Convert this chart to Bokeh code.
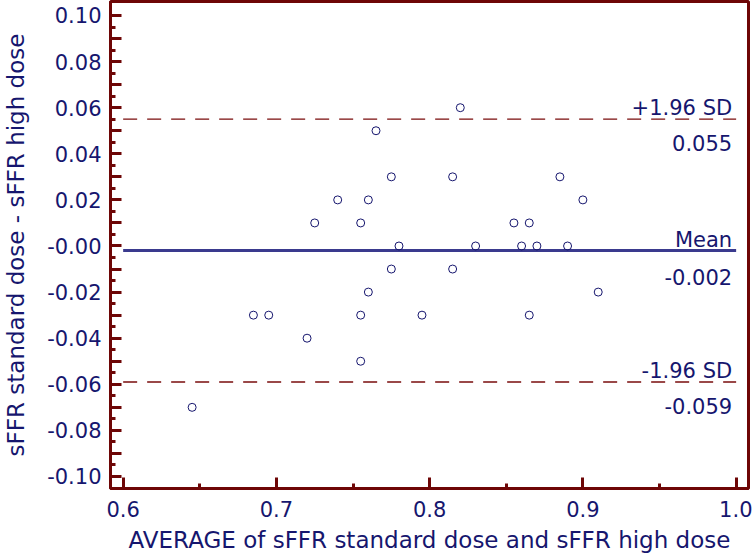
from bokeh.plotting import figure
from bokeh.models import FixedTicker, Range1d
from bokeh.core.properties import value
from bokeh.embed import file_html
from bokeh.resources import INLINE

# ---- data ----
avg_values = [0.645, 0.685, 0.695, 0.720, 0.725, 0.740, 0.755, 0.755, 0.755,
              0.760, 0.760, 0.765, 0.775, 0.775, 0.780, 0.795, 0.815, 0.815,
              0.820, 0.830, 0.855, 0.865, 0.860, 0.870, 0.865, 0.885, 0.890,
              0.900, 0.910]
diff_values = [-0.07, -0.03, -0.03, -0.04, 0.01, 0.02, 0.01, -0.03, -0.05,
               0.02, -0.02, 0.05, 0.03, -0.01, 0.00, -0.03, 0.03, -0.01,
               0.06, 0.00, 0.01, 0.01, 0.00, 0.00, -0.03, 0.03, 0.00,
               0.02, -0.02]

mean_diff = -0.002
upper_loa = 0.055
lower_loa = -0.059
upper_name = "+1.96 SD"
mean_name = "Mean"
lower_name = "-1.96 SD"

x_ticks = [0.6, 0.7, 0.8, 0.9, 1.0]
x_minor = [0.65, 0.75, 0.85, 0.95]
x_tick_labels = ["0.6", "0.7", "0.8", "0.9", "1.0"]

y_ticks = [-0.10, -0.09, -0.08, -0.07, -0.06, -0.05, -0.04, -0.03, -0.02, -0.01,
           0.0, 0.01, 0.02, 0.03, 0.04, 0.05, 0.06, 0.07, 0.08, 0.09, 0.10]
y_minor = [-0.095, -0.085, -0.075, -0.065, -0.055, -0.045, -0.035, -0.025,
           -0.015, -0.005, 0.005, 0.015, 0.025, 0.035, 0.045, 0.055, 0.065,
           0.075, 0.085, 0.095]
y_tick_labels = ["-0.10", "", "-0.08", "", "-0.06", "", "-0.04", "", "-0.02", "",
                 "-0.00", "", "0.02", "", "0.04", "", "0.06", "", "0.08", "", "0.10"]

x_title = "AVERAGE of sFFR standard dose and sFFR high dose"
y_title = "sFFR standard dose - sFFR high dose"

# ---- style ----
NAVY = "#16166e"
FRAME = "#6e0606"
DASH = "#7a0c0c"
MEANC = "#3a3a8e"
FONT = "DejaVu Sans"

p = figure(width=752, height=559, output_backend="svg", toolbar_location=None,
           x_range=Range1d(0.59174, 1.00807), y_range=Range1d(-0.10521, 0.10607),
           min_border_left=108, min_border_right=4, min_border_top=1,
           min_border_bottom=71)
p.xgrid.visible = False
p.ygrid.visible = False
p.outline_line_color = FRAME
p.outline_line_width = 3
p.outline_line_alpha = 1.0
p.background_fill_color = "white"
p.border_fill_color = "white"

p.xaxis.ticker = FixedTicker(ticks=x_ticks, minor_ticks=x_minor)
p.xaxis.major_label_overrides = {t: l for t, l in zip(x_ticks, x_tick_labels)}
p.yaxis.ticker = FixedTicker(ticks=y_ticks, minor_ticks=y_minor)
p.yaxis.major_label_overrides = {t: l for t, l in zip(y_ticks, y_tick_labels)}
p.xaxis.axis_label = x_title
p.yaxis.axis_label = y_title

for ax in (p.xaxis[0], p.yaxis[0]):
    ax.axis_line_color = FRAME
    ax.axis_line_width = 3
    ax.major_tick_in = 11
    ax.major_tick_out = 0
    ax.minor_tick_in = 5
    ax.minor_tick_out = 0
    ax.major_tick_line_color = FRAME
    ax.major_tick_line_width = 3
    ax.minor_tick_line_color = FRAME
    ax.minor_tick_line_width = 3
    ax.major_label_text_font = FONT
    ax.major_label_text_font_size = "21px"
    ax.major_label_text_color = NAVY
    ax.axis_label_text_font = FONT
    ax.axis_label_text_font_size = "23px"
    ax.axis_label_text_font_style = "normal"
    ax.axis_label_text_color = NAVY

p.xaxis.major_label_standoff = 12
p.xaxis.axis_label_standoff = 7
p.yaxis.major_label_standoff = 9
p.yaxis.axis_label_standoff = 15

x0, x1 = x_ticks[0], x_ticks[-1]

# limits of agreement and mean
p.line([x0, x1], [upper_loa, upper_loa], line_color=DASH, line_width=1.3, line_dash="14 10")
p.line([x0, x1], [lower_loa, lower_loa], line_color=DASH, line_width=1.3, line_dash="14 10")
p.line([x0, x1], [mean_diff, mean_diff], line_color=MEANC, line_width=3)

# points
p.scatter(avg_values, diff_values, marker="circle", size=8, fill_color=None,
          line_color=NAVY, line_width=1)

# annotation texts
txt = dict(text_align="right", text_baseline="alphabetic", text_font=value(FONT),
           text_font_size="21px", text_color=NAVY, x_offset=-4)
p.text(x=[x1, x1, x1], y=[upper_loa, mean_diff, lower_loa],
       text=[upper_name, mean_name, lower_name], y_offset=-11, **txt)
p.text(x=[x1, x1], y=[upper_loa, lower_loa],
       text=[f"{upper_loa:.3f}", f"{lower_loa:.3f}"], y_offset=24, **txt)
p.text(x=[x1], y=[mean_diff], text=[f"{mean_diff:.3f}"], y_offset=26, **txt)

open("out.html", "w").write(file_html(p, INLINE))
